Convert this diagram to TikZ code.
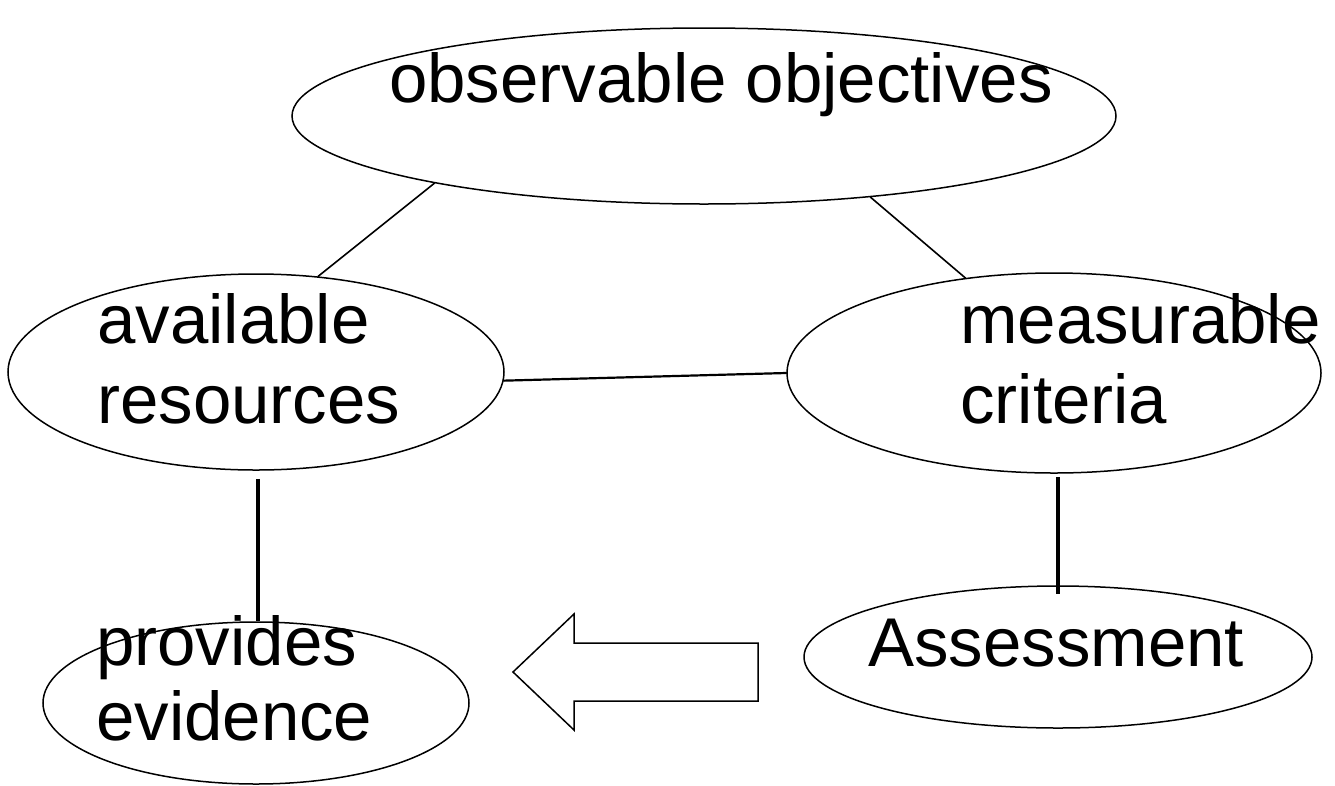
\documentclass[tikz,border=0pt]{standalone}
\usepackage{fontspec}
\setmainfont{Liberation Sans}
\usetikzlibrary{shapes.geometric}
\tikzset{
  bubble/.style={draw=black, ellipse, line width=1.5pt, inner sep=0pt},
  tag/.style={inner sep=0pt, anchor=base west, align=left, font=\fontsize{69}{80}\selectfont},
  link/.style={draw=black, line width=1.6pt, line cap=round},
  stem/.style={draw=black, line width=4.5pt},
}
\begin{document}
\begin{tikzpicture}[x=1pt, y=-1pt]
% Canvas in pixel units of the source picture
\def\canvasw{1335}
\def\canvash{785}
\providecommand{\blockArrowWidth}{1.5pt}
\useasboundingbox[fill=white] (0,0) rectangle (\canvasw,\canvash);
% Ellipses
\node[bubble, minimum width=824pt, minimum height=176pt] (obj) at (704,116) {};
\node[bubble, minimum width=496pt, minimum height=196pt] (avail) at (256,372) {};
\node[bubble, minimum width=534pt, minimum height=200pt] (crit) at (1054,373) {};
\node[bubble, minimum width=426pt, minimum height=162pt] (evid) at (256,703) {};
\node[bubble, minimum width=508pt, minimum height=142pt] (assess) at (1058,657) {};
% Labels (base = baseline of the last line)
\node[tag] (objtxt) at (389,102) {observable objectives};
\node[tag] (availtxt) at (97,423) {available\\resources};
\node[tag] (crittxt) at (960,423) {measurable\\criteria};
\node[tag, font=\fontsize{69}{75}\selectfont] (evidtxt) at (96,740) {provides\\evidence};
\node[tag] (assesstxt) at (868,666) {Assessment};
% Connectors
\draw[link] (obj.194.5) -- (avail.57);
\draw[link] (obj.-26) -- (crit.133.4);
\draw[link, line width=2.2pt] (avail.-2.1) -- (crit.180.9);
\draw[stem] ([xshift=2pt, yshift=-8pt]avail.south) -- ([xshift=2pt]evid.north);
\draw[stem] ([xshift=4pt, yshift=-3pt]crit.south) -- ([yshift=-9pt]assess.north);
% Block arrow between the two lower ellipses
\draw[line width=\blockArrowWidth, line join=miter] (758,643) -- (574,643) -- (574,614) -- (513,672)
  -- (574,730) -- (574,701) -- (758,701) -- cycle;
\end{tikzpicture}
\end{document}
